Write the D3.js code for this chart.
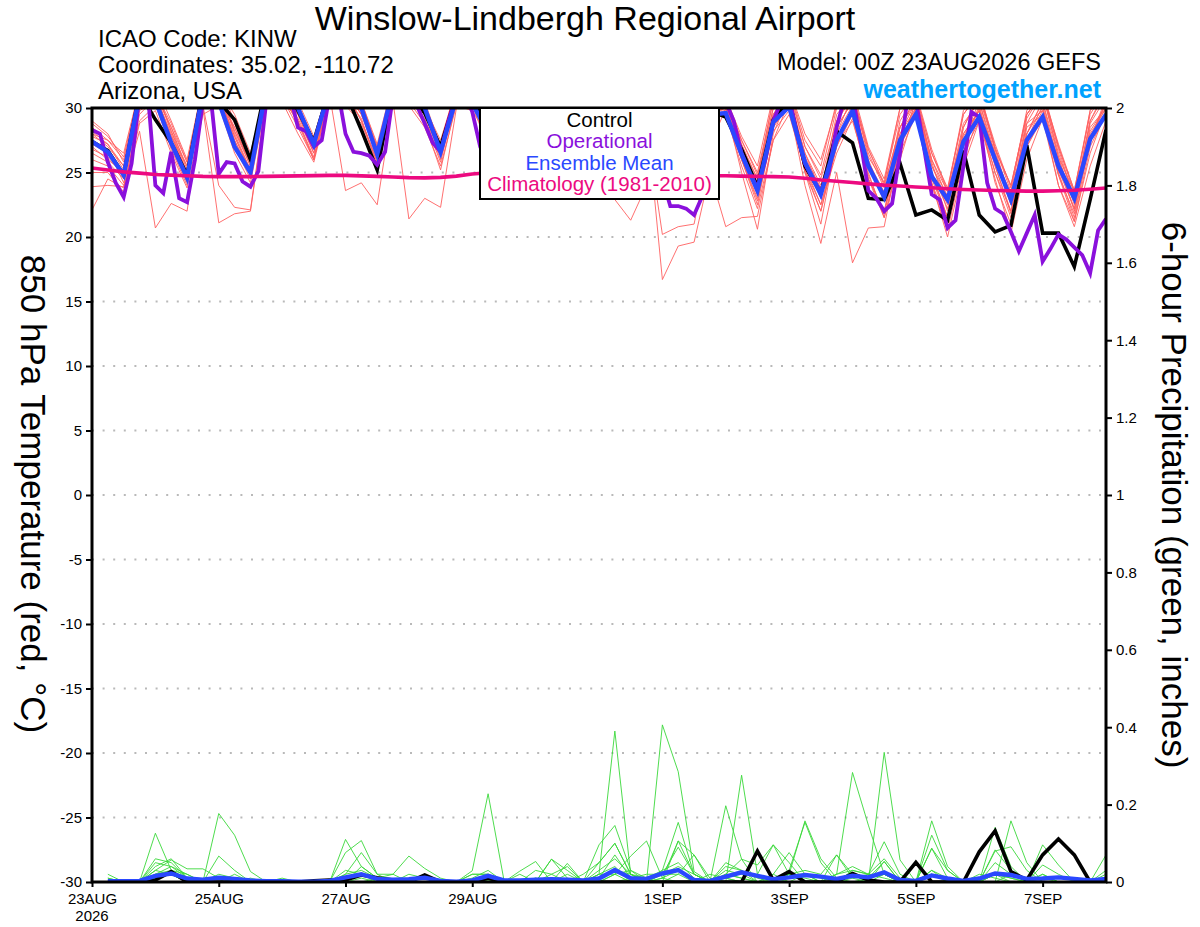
<!DOCTYPE html>
<html>
<head>
<meta charset="utf-8">
<script src="https://cdn.jsdelivr.net/npm/d3@7"></script>
<style>
  body { margin: 0; background: #fff; }
  svg { font-family: "Liberation Sans", Arial, Helvetica, sans-serif; }
</style>
</head>
<body>
<svg id="chart" width="1200" height="927"></svg>
<script>
// GEFS plume, 00Z 23AUG2026, 6-hourly steps 0..384 h (operational run is 3-hourly)

const tickDates = ["2026-08-23", "2026-08-25", "2026-08-27", "2026-08-29",
                   "2026-09-01", "2026-09-03", "2026-09-05", "2026-09-07"];
const tickLabels = ["23AUG", "25AUG", "27AUG", "29AUG", "1SEP", "3SEP", "5SEP", "7SEP"];
const tempTicks = [-30, -25, -20, -15, -10, -5, 0, 5, 10, 15, 20, 25, 30];
const precipTicks = [0, 0.2, 0.4, 0.6, 0.8, 1, 1.2, 1.4, 1.6, 1.8, 2];

// 850 hPa temperature (C)
const tempControl = [27.4, 26.7,24.8,31.2,29.1, 27.3,24.8,31.4,30.5, 29.1,26.0,31.8,31.5, 29.8,27.4,31.5,31.2,
  28.3,25.2,31.5,31.2, 29.6,27.0,31.0,30.5, 28.5,26.0,31.0,31.0, 28.5,25.5,30.8,31.0, 28.0,25.2,30.5,30.2,
  27.5,24.8,29.8,29.3, 26.8,23.9,29.1,30.6, 25.5,23.4,28.2,27.3, 23.0,22.9,25.7,21.7, 22.1,21.3,26.7,21.7,
  20.4,20.9,27.1,20.3, 20.3,17.7,22.9,28.3];

const tempMean = [27.4, 26.6,24.8,31.0,30.6, 27.3,24.6,31.2,30.5, 27.0,25.0,31.5,31.2, 30.0,27.2,31.5,31.3,
  30.0,26.4,31.5,31.0, 30.0,26.6,30.8,30.4, 28.0,25.6,30.5,30.6, 28.2,25.4,30.4,30.8, 27.9,25.0,30.0,29.6,
  27.0,24.6,29.5,29.6, 26.4,23.6,28.9,30.1, 25.8,23.3,27.5,29.8, 25.5,23.1,27.5,29.5, 24.7,22.9,27.4,29.3,
  26.0,22.9,27.5,29.3, 25.5,23.0,27.6,29.5];

const tempClimo = [25.35, 25.2,25.05,24.95,24.85, 24.8,24.75,24.7,24.68, 24.68,24.68,24.7,24.72, 24.74,24.76,24.78,24.78,
  24.74,24.7,24.65,24.6, 24.58,24.62,24.72,24.88, 24.98,25.0,24.95,24.9, 24.9,24.85,24.85,24.8, 24.8,24.8,24.8,24.75,
  24.75,24.75,24.75,24.75, 24.72,24.7,24.68,24.65, 24.55,24.42,24.32,24.22, 24.12,24.02,23.95,23.88, 23.82,23.74,23.68,23.64,
  23.6,23.58,23.56,23.56, 23.58,23.62,23.7,23.8];

// operational run, 3-hourly (129 values)
const tempOper = [28.3,28.0,25.8,24.2,23.1,25.7,31.0,31.5, 24.0,23.4,26.6,23.0,22.7,26.0,30.5,30.8,
  24.9,25.8,25.7,24.3,23.9,25.1,30.5,31.5, 31.5,31.0,28.5,28.2,27.0,27.5,31.0,31.5,
  28.0,26.6,26.5,26.3,25.6,26.6,31.0,31.5, 31.0,30.2,28.8,27.3,26.6,29.0,31.0,31.2,
  29.7,27.0,25.5,24.5,24.0,27.5,30.5,31.0, 30.5,28.5,26.5,25.5,25.0,27.5,30.5,31.0,
  30.0,28.0,26.0,25.0,24.5,27.0,30.0,30.5, 24.5,22.4,22.4,22.2,21.7,23.1,27.0,30.5,
  30.5,29.0,26.5,25.0,23.8,26.0,29.0,30.5, 30.8,28.0,25.7,24.5,23.5,25.0,28.5,30.8,
  31.0,27.5,23.6,23.0,22.0,22.6,26.5,31.0, 30.6,27.0,23.3,22.9,20.7,21.3,25.5,29.7,
  29.3,24.2,22.2,21.8,20.4,18.9,20.3,21.7, 18.1,19.1,20.2,19.8,19.2,18.6,17.2,20.5,
  21.4];

const tempMembers = [
  [22.1, 24.5,23.8,29.5,30.8, 27.0,24.2,31.0,31.5, 28.0,25.2,31.8,31.0, 29.5,26.5,32.0,31.5, 29.0,26.0,31.8,31.2,
   29.5,26.2,31.2,30.8, 28.0,25.5,30.8,30.9, 28.5,25.8,30.5,31.2, 28.0,25.0,30.2,29.8, 27.2,24.5,29.8,30.0,
   26.8,23.2,29.0,30.5, 26.5,24.0,28.0,30.2, 25.8,23.5,28.0,30.0, 25.0,22.5,27.8,29.8, 26.4,23.2,28.0,30.0, 26.0,22.8,28.2,30.2],
  [23.9, 24.0,23.9,28.2,20.7, 22.6,22.0,30.5,31.2, 27.5,24.8,31.5,31.2, 29.8,27.0,31.8,31.0, 28.5,25.5,31.5,31.0,
   29.0,25.8,31.0,30.5, 27.5,24.8,30.5,31.0, 28.8,26.0,31.0,31.5, 27.5,24.5,30.5,30.2, 27.8,25.0,30.5,29.5,
   26.0,22.5,28.5,31.0, 25.0,22.0,27.0,29.5, 24.5,22.0,27.0,30.5, 24.2,21.0,27.0,30.2, 25.5,21.8,28.5,29.5, 25.0,21.5,27.5,30.5],
  [26.5, 25.8,24.5,30.5,31.0, 27.8,25.0,30.0,21.1, 21.8,22.0,30.5,31.5, 30.2,27.5,32.0,31.5, 30.0,26.8,31.0,31.5,
   30.0,26.5,31.5,31.0, 28.5,26.0,31.0,30.5, 27.8,25.0,30.8,31.0, 28.5,25.5,30.8,30.5, 27.5,24.8,29.5,30.2,
   26.5,24.0,29.5,31.5, 27.0,24.5,29.0,31.0, 26.5,23.8,28.5,30.8, 26.0,23.0,28.5,31.0, 27.0,23.5,29.5,31.2, 26.8,23.0,29.0,31.5],
  [27.0, 26.0,25.0,30.8,31.5, 28.2,25.5,30.2,24.0, 22.3,22.1,30.8,31.0, 29.0,26.0,31.5,31.8, 30.5,27.2,32.0,31.8,
   30.5,27.0,31.5,31.5, 28.2,25.8,31.5,31.2, 29.0,26.0,31.2,31.0, 28.8,25.8,30.5,31.0, 27.8,25.2,30.0,29.8,
   27.0,24.5,30.0,30.2, 25.8,23.0,28.5,30.5, 26.0,23.0,28.0,30.5, 25.5,22.8,28.0,29.8, 26.5,22.5,28.8,29.8, 25.8,22.0,28.5,30.0],
  [28.0, 27.0,25.5,31.0,31.2, 28.5,25.2,31.5,31.0, 28.5,25.8,31.2,30.8, 28.5,26.0,31.0,23.6, 24.2,22.5,30.5,31.5,
   30.2,27.2,31.8,31.2, 28.8,26.2,31.0,30.8, 28.0,25.2,31.0,30.8, 27.0,24.2,30.0,30.5, 26.5,24.0,29.5,30.2,
   26.5,24.2,29.0,30.5, 26.0,23.5,28.5,30.5, 25.5,22.8,27.5,30.0, 25.0,22.2,27.5,30.5, 26.0,22.5,28.0,30.5, 25.5,22.2,28.0,30.0],
  [28.5, 27.5,26.0,31.2,31.0, 28.0,24.8,31.0,31.2, 27.5,25.0,31.5,31.5, 30.0,27.2,31.8,31.2, 29.0,25.8,30.5,21.4,
   23.0,22.3,30.0,31.0, 28.0,25.5,30.5,31.0, 29.0,26.2,30.8,31.2, 27.5,24.8,30.8,30.5, 27.2,24.8,30.5,30.5,
   27.5,24.8,30.0,30.2, 26.2,23.8,28.0,31.0, 25.5,23.0,28.5,30.5, 26.0,23.5,28.0,29.8, 25.8,23.5,28.0,30.5, 26.2,23.5,27.5,30.8],
  [28.8, 27.8,26.2,31.5,31.5, 28.2,25.0,31.8,31.5, 28.2,25.5,31.0,31.2, 29.5,26.8,31.5,31.0, 29.8,26.5,31.2,31.0,
   29.0,26.8,30.8,30.5, 27.2,24.8,30.2,30.0, 27.5,24.5,30.0,30.0, 22.9,21.3,24.0,30.5, 28.0,25.0,30.5,30.5,
   26.8,23.8,29.5,30.8, 25.5,22.5,27.0,30.0, 24.5,22.0,27.5,29.8, 24.8,21.5,27.0,30.0, 25.5,22.0,27.5,30.2, 24.8,21.8,27.5,30.5],
  [29.0, 28.0,25.8,31.0,30.8, 27.5,24.5,30.8,31.0, 27.8,25.0,31.2,30.5, 29.2,26.5,31.2,31.5, 29.5,26.2,31.0,31.5,
   29.8,27.0,31.0,30.8, 28.5,26.0,30.8,30.5, 28.0,25.5,30.5,30.2, 27.0,24.0,29.5,16.7, 19.3,19.6,25.0,20.8,
   21.5,21.6,27.5,30.5, 25.0,21.0,27.5,29.5, 25.0,21.5,26.0,30.0, 24.0,20.5,26.0,29.5, 24.2,21.0,27.0,29.5, 24.0,21.2,26.5,29.8],
  [27.8, 27.2,25.2,30.5,31.0, 27.8,25.5,31.2,31.2, 28.8,26.0,31.5,31.5, 29.8,27.0,32.0,31.8, 30.2,27.0,31.5,31.2,
   29.5,26.8,31.2,31.0, 28.5,25.5,30.5,31.2, 28.2,25.2,30.8,30.5, 26.5,23.5,28.5,20.2, 20.8,21.0,27.0,30.0,
   25.0,20.6,28.0,31.0, 26.5,23.5,29.5,31.0, 26.8,24.0,28.5,30.8, 25.5,23.2,28.8,30.5, 26.5,23.0,28.8,31.0, 26.5,23.0,29.0,31.2],
  [27.2, 26.5,25.0,30.2,30.5, 27.2,24.8,31.0,31.0, 27.8,25.2,31.8,31.5, 30.2,27.5,31.5,31.2, 29.8,26.8,31.8,31.2,
   30.0,26.5,31.0,30.5, 28.2,25.8,30.2,30.8, 28.0,25.5,30.2,30.8, 27.8,25.0,30.5,30.2, 27.0,24.5,29.5,30.0,
   26.0,23.0,28.5,30.2, 24.0,19.5,25.0,18.0, 20.7,20.8,27.0,30.5, 25.0,21.5,27.5,29.5, 25.0,22.0,27.5,29.8, 25.2,22.2,27.8,30.0],
  [26.8, 26.2,24.8,30.0,31.2, 28.8,25.8,31.5,31.8, 29.0,26.2,32.0,31.8, 30.5,27.8,31.8,31.5, 30.5,27.0,31.5,31.5,
   30.0,27.5,31.5,31.2, 29.0,26.5,31.2,31.5, 29.2,26.5,31.5,31.5, 28.5,25.8,31.0,30.8, 28.0,25.5,30.8,30.8,
   27.5,25.0,30.5,31.5, 27.5,25.5,30.5,31.5, 27.0,24.5,30.0,31.0, 26.5,23.5,29.5,31.2, 27.2,23.8,29.8,31.5, 27.0,23.6,29.5,31.5],
  [27.5, 26.8,24.2,29.8,30.5, 26.8,24.0,30.5,30.8, 27.0,24.5,30.8,31.0, 28.8,26.0,31.2,30.8, 29.2,25.5,30.8,30.5,
   28.8,25.2,30.5,30.2, 27.0,24.5,30.0,30.0, 27.2,24.8,29.8,30.2, 27.2,24.2,29.8,29.5, 26.5,23.5,29.2,29.5,
   26.0,22.8,28.2,29.8, 25.2,22.5,26.5,29.2, 24.5,21.5,26.5,29.5, 24.2,20.0,25.5,29.0, 24.5,20.3,26.0,29.2, 24.0,20.8,25.5,29.0],
  [26.0, 25.5,24.0,29.0,30.2, 27.0,25.0,30.5,30.5, 28.5,25.5,31.0,30.8, 29.0,26.2,31.0,31.2, 29.5,26.5,31.2,30.8,
   29.2,26.0,30.8,31.0, 28.0,25.2,30.5,30.5, 28.5,25.2,30.5,31.0, 28.0,25.2,30.2,30.0, 27.8,24.8,30.2,30.5,
   26.2,24.0,29.5,31.2, 26.0,23.0,29.0,30.8, 25.5,22.8,29.0,31.0, 25.8,22.0,28.5,30.8, 26.8,22.8,29.2,31.2, 26.2,22.5,28.8,30.8],
  [28.2, 27.2,25.5,30.8,31.8, 29.0,26.0,31.8,31.5, 28.2,25.8,31.2,31.2, 29.5,27.0,31.8,31.8, 30.0,26.2,31.5,31.8,
   30.2,26.8,31.8,31.5, 28.5,26.0,31.5,31.5, 28.8,26.0,31.0,31.2, 28.8,26.0,31.2,31.0, 27.5,25.0,30.5,31.0,
   27.2,24.5,30.8,31.2, 27.0,24.8,30.0,31.2, 26.2,24.2,29.5,31.2, 26.8,23.6,29.8,31.5, 26.8,24.0,29.5,31.2, 27.2,23.6,29.8,31.5],
  [25.0, 25.0,23.5,28.8,29.8, 26.5,23.8,29.5,30.2, 26.5,24.2,30.5,30.5, 28.0,25.8,30.8,30.2, 28.8,25.8,30.2,30.2,
   28.5,25.5,30.2,29.8, 27.8,25.0,29.8,30.2, 27.8,25.0,30.0,30.5, 27.5,24.5,29.8,29.5, 26.8,24.2,29.0,29.5,
   25.5,22.2,27.5,29.5, 25.2,22.0,27.2,29.0, 24.8,21.8,27.0,29.5, 24.5,21.5,26.5,29.0, 25.0,21.5,27.0,29.2, 24.8,21.2,27.0,29.5],
  [28.0, 27.5,26.5,31.5,31.0, 28.5,25.8,31.2,31.5, 29.5,26.5,31.5,31.2, 29.8,27.0,31.5,31.5, 29.5,26.8,31.8,31.5,
   29.8,27.2,31.5,31.2, 29.0,26.0,31.2,31.2, 29.0,26.2,31.2,31.2, 29.0,26.2,31.0,30.8, 28.2,25.5,30.8,30.8,
   27.8,25.5,31.0,31.5, 28.0,26.0,30.2,31.2, 26.8,24.2,30.0,31.0, 26.5,23.8,29.5,31.2, 26.8,24.0,29.5,31.2, 27.0,23.4,29.8,31.5]
];

// 6-hour precipitation (inches); no value at analysis time
const precipControl = [null, 0,0,0,0.005, 0.027,0,0,0, 0,0,0,0, 0,0.003,0.005,0.005, 0.018,0.011,0.005,0,
  0.018,0,0,0, 0.01,0,0,0, 0.005,0.005,0.003,0, 0,0,0,0, 0,0,0,0, 0,0.08,0.005,0.027, 0,0,0,0.022,
  0.005,0,0,0.051, 0,0,0,0.078, 0.132,0.027,0.005,0.07, 0.111,0.07,0,0];

const precipMean = [null, 0.002,0.002,0.003,0.016, 0.022,0.009,0.006,0.011, 0.008,0.004,0.002,0.002,
  0.001,0.001,0.003,0.012, 0.02,0.008,0.006,0.007, 0.011,0.003,0.001,0.004, 0.016,0.004,0.004,0.006,
  0.007,0.006,0.004,0.009, 0.031,0.01,0.008,0.022, 0.031,0.005,0.003,0.014, 0.025,0.016,0.007,0.012,
  0.018,0.014,0.008,0.016, 0.012,0.025,0.005,0.003, 0.017,0.009,0.003,0.009, 0.022,0.018,0.008,0.009,
  0.012,0.008,0.004,0.008];

const precipMembers = [
  [null, 0.02,0,0,0.126,0.03,0.01,0,0, 0,0,0,0,0,0,0,0.01, 0.02,0,0,0,0,0,0,0.01, 0.03,0,0,0.01,0,0,0,0.01,
   0.03,0.02,0.01,0.03,0.05,0.01,0,0.02, 0.01,0,0,0.02,0,0,0.07,0.02, 0,0.02,0,0,0.02,0,0,0.02, 0.01,0,0,0,0,0,0,0.01],
  [null, 0.01,0,0,0.05,0.04,0.02,0,0.177, 0.121,0.027,0,0,0,0,0,0, 0,0.01,0,0,0.02,0,0,0, 0.01,0,0.02,0,0,0,0.02,0.05,
   0.1,0.02,0,0.01,0,0,0.02,0.01, 0,0,0.01,0,0.02,0,0,0, 0.01,0.02,0,0,0.087,0.03,0,0, 0,0.02,0,0.01,0,0,0,0],
  [null, 0,0,0,0.04,0.06,0.01,0,0.067, 0.03,0,0,0,0,0,0,0.02, 0.03,0.01,0,0.02,0.01,0,0,0.02, 0.02,0,0,0.03,0.02,0,0,0.096,
   0.146,0.03,0,0,0.02,0,0,0.04, 0.03,0.01,0,0.02,0.01,0,0.02,0.03, 0.02,0.06,0.01,0,0.02,0.01,0,0, 0.02,0.01,0,0,0,0,0,0],
  [null, 0,0,0,0.03,0.057,0.034,0.034,0.01, 0,0.01,0,0,0,0,0,0, 0.01,0,0,0,0,0,0,0, 0.005,0,0.028,0.053,0,0,0,0,
   0,0.01,0.02,0.02,0.03,0,0,0.02, 0.01,0,0,0.02,0.158,0.06,0.01,0, 0,0,0,0,0.02,0.01,0,0, 0.02,0,0,0,0,0,0,0],
  [null, 0,0,0,0.06,0.05,0.01,0,0, 0.02,0,0,0,0,0,0,0.11, 0.04,0.01,0,0,0,0,0,0, 0,0,0,0,0.059,0.01,0,0.03,
   0.06,0.02,0,0.01,0.106,0.02,0,0, 0,0,0,0.03,0.154,0.05,0,0, 0,0,0,0,0.121,0.03,0,0, 0,0.158,0.05,0,0,0,0,0],
  [null, 0,0,0,0.02,0.04,0.01,0,0, 0,0,0,0,0,0,0,0.076, 0.107,0.02,0,0,0,0,0,0, 0,0,0,0.01,0,0.048,0,0,
   0.02,0.067,0.106,0.01,0.03,0,0,0.03, 0.02,0,0.02,0.076,0.02,0,0,0.02, 0.01,0.053,0,0,0.02,0.01,0,0, 0.083,0.03,0,0.02,0,0,0,0.02],
  [null, 0,0,0,0.01,0.03,0.02,0,0, 0,0,0,0.01,0,0,0,0.02, 0.076,0.02,0.02,0.067,0.035,0.01,0,0, 0.02,0,0,0,0,0.02,0,0.02,
   0.02,0.03,0.01,0.02,0.02,0.07,0.01,0, 0,0,0.02,0,0,0,0.02,0.04, 0.02,0.02,0,0,0.03,0,0,0, 0.141,0.04,0,0.096,0.044,0,0,0],
  [null, 0,0,0,0.02,0.02,0,0,0.01, 0,0,0,0,0,0,0,0, 0.04,0.01,0.02,0,0,0,0,0.029, 0.228,0.005,0,0,0,0,0,0.02,
   0.39,0.02,0,0.02,0.04,0.02,0,0.197, 0.059,0,0,0,0,0,0.02,0.283, 0.147,0.02,0,0,0,0,0,0, 0,0,0,0,0,0,0,0.07],
  [null, 0,0,0,0.03,0.02,0,0,0.02, 0.01,0,0,0,0,0,0,0, 0,0,0,0,0,0,0,0.02, 0.02,0,0,0,0.059,0.03,0,0,
   0.02,0,0,0.406,0.285,0.027,0,0, 0.276,0.02,0.096,0.02,0,0,0,0, 0,0.335,0.057,0,0,0,0,0, 0,0,0,0,0,0,0,0],
  [null, 0.01,0,0,0.02,0.03,0,0,0, 0,0,0,0,0,0,0,0, 0,0,0,0,0,0,0,0, 0.02,0,0,0,0.02,0.04,0,0.05,
   0.1,0.02,0,0.03,0.154,0.02,0,0.02, 0.059,0.044,0.096,0.05,0,0,0,0.03, 0.02,0.104,0.02,0,0.158,0.04,0,0, 0.08,0.091,0.03,0,0,0,0,0],
  [null, 0,0,0,0.015,0.02,0,0,0, 0,0,0,0,0,0,0,0.03, 0.02,0.01,0,0,0.02,0,0,0, 0,0,0,0,0,0,0,0.02,
   0.04,0,0,0.02,0.09,0.02,0,0.05, 0.03,0,0,0.02,0.03,0.02,0.07,0.01, 0,0.053,0,0,0.087,0.01,0,0, 0.02,0.01,0,0.044,0.02,0,0,0.03],
  [null, 0,0,0,0.01,0.02,0,0,0, 0,0,0,0,0,0,0,0, 0,0,0,0,0,0,0,0, 0,0,0,0,0,0,0,0.01,
   0.07,0.01,0,0,0.106,0.07,0,0.01, 0,0,0,0.02,0.02,0.01,0,0.01, 0.02,0.01,0,0,0.03,0.01,0,0, 0.05,0.02,0,0.02,0,0,0,0.01]
];

const legendItems = ["Control", "Operational", "Ensemble Mean", "Climatology (1981-2010)"];
const legendColors = ["#000000", "#8a10dc", "#2a48ff", "#ec0a80"];

// ---------------------------------------------------------------
const runStart = new Date(Date.UTC(2026, 7, 23, 0));
const plot = { left: 92, right: 1106, top: 108, bottom: 882 };

const svg = d3.select("#chart");

const x = d3.scaleUtc()
    .domain([runStart, d3.utcHour.offset(runStart, 384)])
    .range([plot.left, plot.right]);
const yT = d3.scaleLinear().domain([-30, 30]).range([plot.bottom, plot.top]);
const yP = d3.scaleLinear().domain([0, 2]).range([plot.bottom, plot.top]);

const t6 = i => d3.utcHour.offset(runStart, 6 * i);
const t3 = i => d3.utcHour.offset(runStart, 3 * i);

svg.append("defs").append("clipPath").attr("id", "plotclip")
  .append("rect")
    .attr("x", plot.left).attr("y", plot.top)
    .attr("width", plot.right - plot.left).attr("height", plot.bottom - plot.top);

// dotted grid at temperature ticks
svg.append("g")
  .selectAll("line")
  .data(tempTicks.filter(v => v > -30 && v < 30))
  .join("line")
    .attr("x1", plot.left).attr("x2", plot.right)
    .attr("y1", d => yT(d)).attr("y2", d => yT(d))
    .attr("stroke", "#b9b9b9")
    .attr("stroke-width", 2)
    .attr("stroke-dasharray", "2,8.6");

const lineT6 = d3.line().x((d, i) => x(t6(i))).y(d => yT(d));
const lineT3 = d3.line().x((d, i) => x(t3(i))).y(d => yT(d));
const lineP6 = d3.line().defined(d => d != null).x((d, i) => x(t6(i))).y(d => yP(d));

const g = svg.append("g").attr("clip-path", "url(#plotclip)")
    .attr("fill", "none").attr("stroke-linejoin", "miter");

// members
g.append("g").selectAll("path").data(tempMembers).join("path")
    .attr("d", lineT6).attr("stroke", "#ff6060").attr("stroke-width", 0.9);
g.append("g").selectAll("path").data(precipMembers).join("path")
    .attr("d", lineP6).attr("stroke", "#3ad83a").attr("stroke-width", 0.9);

// precipitation control & mean
g.append("path").attr("d", lineP6(precipControl)).attr("stroke", "#000").attr("stroke-width", 3.6);
g.append("path").attr("d", lineP6(precipMean)).attr("stroke", legendColors[2]).attr("stroke-width", 4.4);

// temperature control, operational, mean, climatology
g.append("path").attr("d", lineT6(tempControl)).attr("stroke", "#000").attr("stroke-width", 3.6);
g.append("path").attr("d", lineT3(tempOper)).attr("stroke", legendColors[1]).attr("stroke-width", 3.8);
g.append("path").attr("d", lineT6(tempMean)).attr("stroke", legendColors[2]).attr("stroke-width", 4.4);
g.append("path").attr("d", lineT6(tempClimo)).attr("stroke", legendColors[3]).attr("stroke-width", 3.6);

// axes
const fontAxis = 15;
const axL = svg.append("g").attr("transform", `translate(${plot.left},0)`)
  .call(d3.axisLeft(yT).tickValues(tempTicks).tickSize(6).tickPadding(4).tickFormat(d => String(d)));
const axR = svg.append("g").attr("transform", `translate(${plot.right},0)`)
  .call(d3.axisRight(yP).tickValues(precipTicks).tickSize(6).tickPadding(4).tickFormat(d => String(d)));
const axB = svg.append("g").attr("transform", `translate(0,${plot.bottom})`)
  .call(d3.axisBottom(x).tickValues(tickDates.map(s => new Date(s + "T00:00:00Z")))
    .tickSize(5).tickPadding(5).tickFormat((d, i) => tickLabels[i]));

[axL, axR, axB].forEach(a => {
  a.select(".domain").remove();
  a.selectAll(".tick line").attr("stroke", "#000").attr("stroke-width", 2);
  a.selectAll(".tick text").attr("fill", "#000")
    .attr("font-family", "'Liberation Sans', Arial, sans-serif").attr("font-size", fontAxis);
});
axB.selectAll(".tick text").attr("dy", "0.78em");

svg.append("text")
    .attr("x", x(new Date(tickDates[0] + "T00:00:00Z"))).attr("y", 921)
    .attr("text-anchor", "middle").attr("font-size", fontAxis)
    .text("2026");

// plot frame
svg.append("rect")
    .attr("x", plot.left).attr("y", plot.top)
    .attr("width", plot.right - plot.left).attr("height", plot.bottom - plot.top)
    .attr("fill", "none").attr("stroke", "#000").attr("stroke-width", 3);

// legend
const lg = svg.append("g");
lg.append("rect")
    .attr("x", 480).attr("y", 108).attr("width", 239).attr("height", 91)
    .attr("fill", "#fff").attr("stroke", "#000").attr("stroke-width", 2);
lg.selectAll("text").data(legendItems).join("text")
    .attr("x", 599.5).attr("y", (d, i) => 127 + i * 21.3)
    .attr("text-anchor", "middle").attr("font-size", 20.5)
    .attr("fill", (d, i) => legendColors[i])
    .text(d => d);

// titles
svg.append("text").attr("x", 585).attr("y", 30).attr("text-anchor", "middle")
    .attr("font-size", 34).text("Winslow-Lindbergh Regional Airport");
svg.append("text").attr("x", 98).attr("y", 47).attr("font-size", 24).text("ICAO Code: KINW");
svg.append("text").attr("x", 98).attr("y", 73).attr("font-size", 24).text("Coordinates: 35.02, -110.72");
svg.append("text").attr("x", 98).attr("y", 99).attr("font-size", 24).text("Arizona, USA");
svg.append("text").attr("x", 1101).attr("y", 70).attr("text-anchor", "end")
    .attr("font-size", 23.5).text("Model: 00Z 23AUG2026 GEFS");
svg.append("text").attr("x", 1101).attr("y", 98).attr("text-anchor", "end")
    .attr("font-size", 25).attr("font-weight", "bold").attr("fill", "#00a2ff")
    .text("weathertogether.net");

// rotated axis titles
svg.append("text").attr("transform", "translate(21,494) rotate(90)")
    .attr("text-anchor", "middle").attr("font-size", 35)
    .text("850 hPa Temperature (red, °C)");
svg.append("text").attr("transform", "translate(1162,495) rotate(90)")
    .attr("text-anchor", "middle").attr("font-size", 35)
    .text("6-hour Precipitation (green, inches)");
</script>
</body>
</html>
